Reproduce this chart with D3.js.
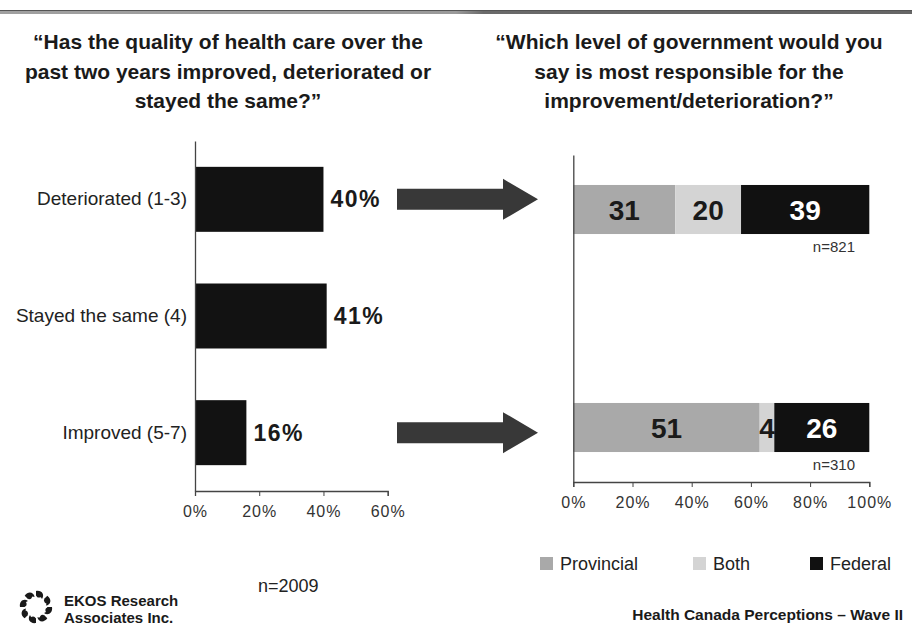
<!DOCTYPE html>
<html>
<head>
<meta charset="utf-8">
<script src="https://cdn.jsdelivr.net/npm/d3@7"></script>
<style>
  html, body { margin: 0; padding: 0; background: #fff; }
  svg { display: block; font-family: "Liberation Sans", Arial, sans-serif; }
</style>
</head>
<body>
<svg id="chart" width="912" height="628"></svg>
<script>
// Survey question 1: perceived change in quality of health care
const categories = ["Deteriorated (1-3)", "Stayed the same (4)", "Improved (5-7)"];
const qualityValues = [40, 41, 16];
const qualityTicks = [0, 20, 40, 60];

// Survey question 2: level of government held responsible (asked of those who saw a change)
const provincialValues = [31, null, 51];
const bothValues = [20, null, 4];
const federalValues = [39, null, 26];
const sampleSizes = ["n=821", null, "n=310"];
const responsibilityTicks = [0, 20, 40, 60, 80, 100];
const seriesNames = ["Provincial", "Both", "Federal"];
const seriesColors = ["#a9a9a9", "#d4d4d4", "#111111"];
const seriesTextColors = ["#1a1a1a", "#1a1a1a", "#ffffff"];

const leftTitle = ["\u201CHas the quality of health care over the", "past two years improved, deteriorated or", "stayed the same?\u201D"];
const rightTitle = ["\u201CWhich level of government would you", "say is most responsible for the", "improvement/deterioration?\u201D"];

const svg = d3.select("#chart");

// Top rule
const defs = svg.append("defs");
const grad = defs.append("linearGradient").attr("id", "rule");
grad.append("stop").attr("offset", "0%").attr("stop-color", "#a0a0a0");
grad.append("stop").attr("offset", "50%").attr("stop-color", "#9a9a9a");
grad.append("stop").attr("offset", "53%").attr("stop-color", "#6a6a6a");
grad.append("stop").attr("offset", "100%").attr("stop-color", "#666666");
svg.append("rect").attr("x", 0).attr("y", 10).attr("width", 912).attr("height", 4).attr("fill", "url(#rule)");
svg.append("line").attr("x1", 0).attr("x2", 912).attr("y1", 10.5).attr("y2", 10.5).attr("stroke", "#555").attr("stroke-width", 1);

// Titles
function title(lines, cx) {
  const t = svg.append("text").attr("text-anchor", "middle")
    .attr("font-weight", "bold").attr("font-size", 21).attr("fill", "#1a1a1a");
  lines.forEach((l, i) => t.append("tspan").attr("x", cx).attr("y", 49 + i * 29.5).text(l));
}
title(leftTitle, 228);
title(rightTitle, 689);

// ---- Left chart ----
const xL = d3.scaleLinear().domain([0, 60]).range([195, 387.7]);
const yL = d3.scaleBand().domain(categories).range([141, 491]).paddingInner(0.443).paddingOuter(0.2215);

svg.append("g").selectAll("rect").data(categories).join("rect")
  .attr("x", xL(0))
  .attr("y", d => yL(d))
  .attr("width", (d, i) => xL(qualityValues[i]) - xL(0))
  .attr("height", yL.bandwidth())
  .attr("fill", "#121212");

svg.append("g").selectAll("text").data(categories).join("text")
  .attr("x", (d, i) => xL(qualityValues[i]) + 7)
  .attr("y", d => yL(d) + yL.bandwidth() / 2)
  .attr("dy", "0.35em")
  .attr("font-weight", "bold").attr("font-size", 23).attr("letter-spacing", 1.5)
  .attr("fill", "#1a1a1a")
  .text((d, i) => qualityValues[i] + "%");

const axL = svg.append("g").attr("transform", `translate(${xL(0)},0)`)
  .call(d3.axisLeft(yL).tickSize(0).tickSizeOuter(0).tickPadding(8));
axL.select(".domain").attr("stroke", "#444").attr("stroke-width", 1.3);
axL.selectAll("text").attr("font-size", 19).attr("fill", "#222").attr("font-family", "Liberation Sans, Arial, sans-serif");

const axLB = svg.append("g").attr("transform", "translate(0,491)")
  .call(d3.axisBottom(xL).tickValues(qualityTicks).tickFormat(d => d + "%").tickSize(5).tickSizeOuter(5).tickPadding(10));
axLB.select(".domain").attr("stroke", "#444").attr("stroke-width", 1.3);
axLB.selectAll(".tick line").attr("stroke", "#444");
axLB.selectAll("text").attr("font-size", 16).attr("letter-spacing", 1).attr("fill", "#333")
  .attr("font-family", "Liberation Sans, Arial, sans-serif");

// ---- Right chart ----
const xR = d3.scaleLinear().domain([0, 100]).range([573.3, 869.3]);
const yR = d3.scaleBand().domain(categories).range([155, 482]).paddingInner(0.55).paddingOuter(0.275);

const rows = categories.map((c, i) => ({
  cat: c,
  Provincial: provincialValues[i],
  Both: bothValues[i],
  Federal: federalValues[i],
  n: sampleSizes[i]
})).filter(r => r.Provincial != null);

// normalise each row to 100%
const normRows = rows.map(r => {
  const tot = r.Provincial + r.Both + r.Federal;
  const o = { cat: r.cat };
  seriesNames.forEach(s => { o[s] = r[s] / tot * 100; });
  return o;
});
const stacked = d3.stack().keys(seriesNames)(normRows);

const layers = svg.append("g").selectAll("g").data(stacked).join("g")
  .attr("fill", (d, i) => seriesColors[i]);
layers.selectAll("rect").data(d => d).join("rect")
  .attr("x", d => xR(d[0]))
  .attr("y", d => yR(d.data.cat))
  .attr("width", d => xR(d[1]) - xR(d[0]))
  .attr("height", yR.bandwidth());

layers.each(function(layer, li) {
  d3.select(this).selectAll("text").data(layer).join("text")
    .attr("x", d => (xR(d[0]) + xR(d[1])) / 2)
    .attr("y", d => yR(d.data.cat) + yR.bandwidth() / 2)
    .attr("dy", "0.36em")
    .attr("text-anchor", "middle")
    .attr("font-weight", "bold").attr("font-size", 28)
    .attr("fill", seriesTextColors[li])
    .text((d, i) => rows[i][seriesNames[li]]);
});

svg.append("g").selectAll("text").data(rows).join("text")
  .attr("x", 855)
  .attr("y", d => yR(d.cat) + yR.bandwidth() + 18)
  .attr("text-anchor", "end")
  .attr("font-size", 15).attr("fill", "#333")
  .text(d => d.n);

const axR = svg.append("g").attr("transform", `translate(${xR(0)},0)`)
  .call(d3.axisLeft(yR).tickSize(0).tickSizeOuter(0).tickFormat(""));
axR.select(".domain").attr("stroke", "#444").attr("stroke-width", 1.3);

const axRB = svg.append("g").attr("transform", "translate(0,482)")
  .call(d3.axisBottom(xR).tickValues(responsibilityTicks).tickFormat(d => d + "%").tickSize(5).tickSizeOuter(5).tickPadding(10));
axRB.select(".domain").attr("stroke", "#444").attr("stroke-width", 1.3);
axRB.selectAll(".tick line").attr("stroke", "#444");
axRB.selectAll("text").attr("font-size", 16).attr("letter-spacing", 1).attr("fill", "#333")
  .attr("font-family", "Liberation Sans, Arial, sans-serif");

// Arrows linking the two questions
const arrowRows = rows.map(r => r.cat);
svg.append("g").selectAll("path").data(arrowRows).join("path")
  .attr("fill", "#383838")
  .attr("d", d => {
    const cy = yL(d) + yL.bandwidth() / 2;
    const x0 = 397, xh = 503, x1 = 538, s = 10.5, h = 20.5;
    return `M${x0},${cy - s}H${xh}V${cy - h}L${x1},${cy}L${xh},${cy + h}V${cy + s}H${x0}Z`;
  });

// Legend
const legendX = [540, 693, 810];
const legend = svg.append("g").selectAll("g").data(seriesNames).join("g")
  .attr("transform", (d, i) => `translate(${legendX[i]},557)`);
legend.append("rect").attr("width", 13).attr("height", 13).attr("fill", (d, i) => seriesColors[i]);
legend.append("text").attr("x", 20).attr("y", 6.5).attr("dy", "0.36em")
  .attr("font-size", 18).attr("fill", "#222").text(d => d);

// Footer
svg.append("text").attr("x", 258).attr("y", 592).attr("font-size", 18).attr("fill", "#222").text("n=2009");
svg.append("text").attr("x", 903).attr("y", 620).attr("text-anchor", "end")
  .attr("font-weight", "bold").attr("font-size", 15.5).attr("fill", "#1a1a1a")
  .text("Health Canada Perceptions \u2013 Wave II");

// Company mark and name
const logo = svg.append("g").attr("transform", "translate(36,607)").attr("fill", "#1a1a1a");
d3.range(8).forEach(i => {
  const a = i / 8 * 2 * Math.PI;
  const g = logo.append("g").attr("transform", `rotate(${a * 180 / Math.PI})`);
  g.append("path").attr("d", "M0,-16 C6,-17 9,-12 6,-8 C5,-11 2,-12 0,-11 Z");
  g.append("circle").attr("cx", 3).attr("cy", -12).attr("r", 2.6);
});
svg.append("text").attr("x", 64).attr("y", 606).attr("font-weight", "bold").attr("font-size", 15).attr("fill", "#1a1a1a").text("EKOS Research");
svg.append("text").attr("x", 64).attr("y", 623).attr("font-weight", "bold").attr("font-size", 15).attr("fill", "#1a1a1a").text("Associates Inc.");
</script>
</body>
</html>
